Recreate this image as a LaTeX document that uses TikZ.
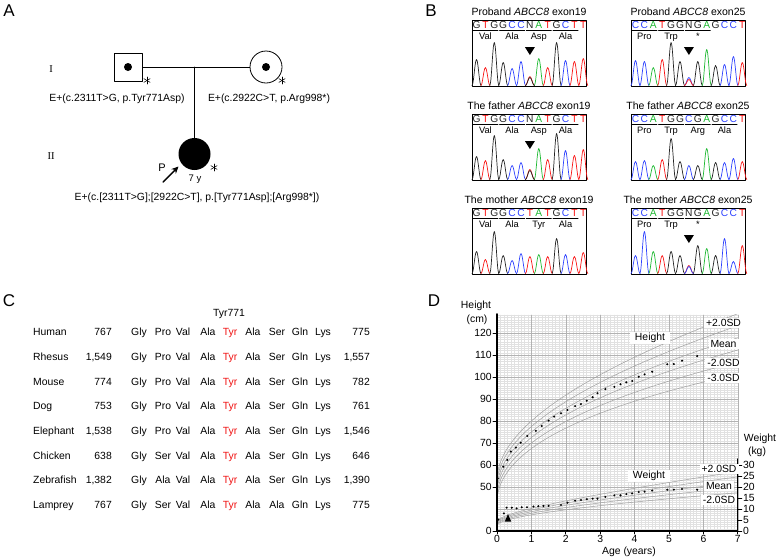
\documentclass[tikz,border=0pt]{standalone}
\usepackage{fontspec}
\setmainfont{Liberation Sans}
\newfontfamily\serifroman{Liberation Serif}
\usetikzlibrary{positioning,arrows.meta}
\definecolor{baseA}{RGB}{30,185,50}
\definecolor{baseC}{RGB}{45,65,255}
\definecolor{baseG}{RGB}{35,35,35}
\definecolor{baseN}{RGB}{35,35,35}
\definecolor{baseT}{RGB}{250,20,20}
\definecolor{tyrred}{RGB}{240,20,20}
\definecolor{gridminor}{RGB}{225,225,225}
\definecolor{gridmajor}{RGB}{178,178,178}
\definecolor{sdgray}{RGB}{160,160,160}
\tikzset{
  txt/.style={inner sep=0pt, font=\fontsize{10.4}{12}\selectfont},
  panel/.style={inner sep=0pt, font=\fontsize{17}{20}\selectfont},
  seqtxt/.style={inner sep=0pt, anchor=base, font=\fontsize{10.2}{12}\selectfont},
  aatxt/.style={inner sep=0pt, anchor=base, font=\fontsize{9.3}{11}\selectfont},
  sdlbl/.style={txt, fill=white, inner xsep=2pt, inner ysep=1.5pt},
  axisline/.style={line width=1.2pt},
  sdline/.style={sdgray, line width=0.5pt},
  pedline/.style={line width=0.8pt},
  starline/.style={line width=0.55pt},
}
% sequencing trace: name, x0, y0, title, bases, amino acids, peaks, extra peaks, arrowhead
\newcommand{\chromat}[9]{
  \node[txt, font=\fontsize{10.5}{12}\selectfont] (#1-title) at ({#2+57},{#3-8}) {#4};
  \draw[line width=0.7pt] (#2,#3) rectangle ++(114,66);
  \foreach \nt [count=\i] in {#5}
    \node[seqtxt, text=base\nt] (#1-b\i) at ({#2+4.5+8.9*(\i-1)},{#3+8.5}) {\nt};
  \foreach \k/\acid in {#6}{
    \draw[line width=0.6pt] ({#2+0.8+26.7*\k},{#3+10.6}) -- ({#2+26+26.7*\k},{#3+10.6});
    \node[aatxt] (#1-aa\k) at ({#2+4.5+8.9*(3*\k+1)},{#3+19.5}) {\acid};
  }
  \foreach \nt/\pk [count=\i] in {#7}
    \draw[base\nt, line width=0.7pt] plot[smooth, domain=-4.5:4.5, samples=11]
      ({#2+4.5+8.9*(\i-1)+(\x)}, {#3+65.5-\pk*(cos(20*(\x)))^2});
  \def\extrapk{#8}
  \ifx\extrapk\empty\else
    \foreach \pos/\nt/\pk in {#8}
      \draw[base\nt, line width=0.7pt] plot[smooth, domain=-4.5:4.5, samples=11]
        ({#2+4.5+8.9*(\pos-1)+(\x)}, {#3+65.5-\pk*(cos(20*(\x)))^2});
  \fi
  \ifnum#9=1 \fill ({#2+4.5+8.9*6-5},{#3+27}) -- ++(10,0) -- ++(-5,8) -- cycle; \fi
}

\begin{document}
\begin{tikzpicture}[x=1pt, y=-1pt, line join=round, line cap=round, >=Stealth]
\useasboundingbox (0,0) rectangle (778,558);
\node[panel] (lblA) at (9,11) {A};
\node[panel] (lblB) at (431,11) {B};
\node[panel] (lblC) at (9,301) {C};
\node[panel] (lblD) at (434,301) {D};

%% A: pedigree
\node[draw, pedline, minimum size=28pt, inner sep=0pt] (father) at (128,67) {};
\node[draw, circle, pedline, minimum size=32pt, inner sep=0pt] (mother) at (266,67) {};
\node[fill, circle, minimum size=32pt, inner sep=0pt] (proband) at (194.5,154) {};
\fill (father.center) circle (4pt);
\fill (mother.center) circle (4pt);
\draw[pedline] (father.east) -- (mother.west);
\draw[pedline] (proband.north) -- (proband.north |- father.east);
\node[font=\serifroman\fontsize{10.5}{12}\selectfont, inner sep=0pt] (gen1) at (51,69) {I};
\node[font=\serifroman\fontsize{10.5}{12}\selectfont, inner sep=0pt] (gen2) at (51,156) {II};
% carrier asterisks
\coordinate (fstar) at (147,80.5);
\coordinate (mstar) at (282,80.5);
\coordinate (pstar) at (214,167.5);
\foreach \st in {fstar,mstar,pstar}
  \foreach \ang in {90,30,150}
    \draw[starline] (\st) ++(\ang:3.6) -- ++(\ang+180:7.2);
\node[txt] (flabel) at (117,99) {E+(c.2311T>G, p.Tyr771Asp)};
\node[txt] (mlabel) at (269,99) {E+(c.2922C>T, p.Arg998*)};
\node[txt] (plabel) at (197,198) {E+(c.[2311T>G];[2922C>T], p.[Tyr771Asp];[Arg998*])};
\node[txt, font=\fontsize{11}{12}\selectfont] (pmark) at (162,168) {P};
\node[txt, font=\fontsize{9.5}{11}\selectfont] (page) at (195,179) {7 y};
\coordinate (arrtail) at (163,182);
\coordinate (arrtip) at (178.5,166.5);
\draw[line width=1.4pt, -{Stealth[length=7pt,width=6.5pt]}] (arrtail) -- (arrtip);

%% B: chromatograms
\chromat{pl}{472}{20}{Proband \textit{ABCC8} exon19}{G,T,G,G,C,C,N,A,T,G,C,T,T}
  {0/Val,1/Ala,2/Asp,3/Ala}{G/26,T/18,G/43,G/23,C/17,C/24,T/9,A/27,T/18,G/43,C/25,T/24,T/27}{7/G/8}{1}
\chromat{pr}{631}{20}{Proband \textit{ABCC8} exon25}{C,C,A,T,G,G,N,G,A,G,C,C,T}
  {0/Pro,1/Trp,2/*}{C/25,C/24,A/18,T/26,G/43,G/24,C/8,G/24,A/36,G/20,C/21,C/29,T/23}{7/T/6}{1}
\chromat{fl}{472}{114}{The father \textit{ABCC8} exon19}{G,T,G,G,C,C,N,A,T,G,C,T,T}
  {0/Val,1/Ala,2/Asp,3/Ala}{G/23,T/19,G/44,G/20,C/14,C/17,T/10,A/31,T/20,G/46,C/29,T/24,T/30}{7/G/9}{1}
\chromat{fr}{631}{114}{The father \textit{ABCC8} exon25}{C,C,A,T,G,G,C,G,A,G,C,C,T}
  {0/Pro,1/Trp,2/Arg,3/Ala}{C/18,C/19,A/14,T/20,G/41,G/18,C/14,G/14,A/31,G/17,C/17,C/21,T/18}{}{0}
\chromat{ml}{472}{208}{The mother \textit{ABCC8} exon19}{G,T,G,G,C,C,T,A,T,G,C,T,T}
  {0/Val,1/Ala,2/Tyr,3/Ala}{G/22,T/14,G/42,G/18,C/13,C/20,T/17,A/19,T/17,G/35,C/19,T/17,T/21}{}{0}
\chromat{mr}{631}{208}{The mother \textit{ABCC8} exon25}{C,C,A,T,G,G,N,G,A,G,C,C,T}
  {0/Pro,1/Trp,2/*}{C/18,C/42,A/22,T/18,G/22,G/18,T/8,G/28,A/25,G/18,C/35,C/12,T/28}{7/C/7}{1}

%% C: alignment
\node[txt, anchor=base] (tyrhead) at (229,316.5) {Tyr771};
\foreach \spec/\numA/\acids/\numB [count=\r] in {
  Human/767/{Gly,Pro,Val,Ala,Tyr,Ala,Ser,Gln,Lys}/775,
  Rhesus/{1,549}/{Gly,Pro,Val,Ala,Tyr,Ala,Ser,Gln,Lys}/{1,557},
  Mouse/774/{Gly,Pro,Val,Ala,Tyr,Ala,Ser,Gln,Lys}/782,
  Dog/753/{Gly,Pro,Val,Ala,Tyr,Ala,Ser,Gln,Lys}/761,
  Elephant/{1,538}/{Gly,Pro,Val,Ala,Tyr,Ala,Ser,Gln,Lys}/{1,546},
  Chicken/638/{Gly,Ser,Val,Ala,Tyr,Ala,Ser,Gln,Lys}/646,
  Zebrafish/{1,382}/{Gly,Ala,Val,Ala,Tyr,Ala,Ser,Gln,Lys}/{1,390},
  Lamprey/767/{Gly,Ser,Val,Ala,Tyr,Ala,Ala,Gln,Lys}/775}{
  \pgfmathsetmacro\yy{335.6+24.7*(\r-1)}
  \node[txt, anchor=base west] (sp-\r) at (33,\yy) {\spec};
  \node[txt, anchor=base east] (na-\r) at (112,\yy) {\numA};
  \node[txt, anchor=base east] (nb-\r) at (370,\yy) {\numB};
  \foreach \acid [count=\c] in \acids {
    \pgfmathsetmacro\cx{{139,163,183,208,230,253,277,300,323}[\c-1]}
    \ifnum\c=5 \def\acol{tyrred}\else\def\acol{black}\fi
    \node[txt, anchor=base, text=\acol] (aa-\r-\c) at (\cx,\yy) {\acid};
  }
}

%% D: growth chart
\begin{scope}[shift={(497,531)}, x=34.4pt, y=2.2pt]
  \foreach \i in {1,...,70} \draw[gridminor, line width=0.25pt] (\i/10,0) -- (\i/10,98.2);
  \foreach \j in {1,...,98} \draw[gridminor, line width=0.25pt] (0,\j) -- (7,\j);
  \draw[gridminor, line width=0.25pt] (0,98.2) -- (7,98.2);
  \foreach \i in {1,...,7} \draw[gridmajor, line width=0.4pt] (\i,0) -- (\i,98.2);
  \foreach \j in {10,20,...,90} \draw[gridmajor, line width=0.4pt] (0,\j) -- (7,\j);
  \begin{scope}
    \clip (0,0) rectangle (7,98.2);
    \foreach \k in {2,1,0,-1,-2,-3}
      \draw[sdline] plot[smooth, domain=0:2.6458, samples=40] ({\x*\x}, {19+26*\x+\k*(2+0.5*\x*\x)});
    \foreach \k in {2,1,0,-1,-2}
      \draw[sdline] plot[smooth, domain=0:2.6458, samples=40] ({\x*\x}, {3.3+4.5*\x+\x*\x+\k*(0.45+0.28*\x*\x)});
  \end{scope}
  \foreach \a/\v in {0.02/53.9,0.18/59.2,0.30/62.3,0.40/66.1,0.55/67.9,0.69/70.1,0.88/73.2,1.13/75.5,
      1.30/77.7,1.50/80.2,1.66/82.0,1.86/83.5,2.05/85.0,2.27/86.8,2.44/87.7,2.61/89.2,2.78/90.8,
      2.92/92.6,3.15/94.5,3.41/95.5,3.59/96.7,3.76/97.6,3.93/98.2,4.12/100.1,4.29/101.2,4.51/102.4,
      4.95/105.8,5.14/105.9,5.38/107.4,5.82/109.5}
    \fill (\a,\v-30) circle (1.15pt);
  \foreach \a/\v in {0.04/5.2,0.20/8.0,0.28/10.6,0.43/10.6,0.57/10.3,0.72/10.8,0.87/10.8,1.06/11.1,
      1.20/11.3,1.35/11.4,1.50/11.4,1.86/11.8,2.05/12.9,2.27/13.8,2.44/14.1,2.61/14.5,2.78/14.7,
      2.92/14.7,3.15/15.5,3.41/16.2,3.59/16.2,3.76/16.8,3.93/17.1,4.12/17.7,4.29/17.9,4.51/18.4,
      4.95/18.8,5.14/18.8,5.38/19.1,5.82/18.8}
    \fill (\a,\v) circle (1.15pt);
  \fill (0.32,5.9) ++(0pt,4pt) -- ++(-3.2pt,-7.5pt) -- ++(6.4pt,0pt) -- cycle;
  % axes and ticks
  \draw[axisline] (0,98.7) -- (0,0) -- (7,0) -- (7,32.8);
  \foreach \v in {50,60,...,120}
    \draw[line width=0.8pt] (0,\v-30) -- ++(-4pt,0pt) node[txt, anchor=east, xshift=-1pt] (ht-\v) {\v};
  \draw[line width=0.8pt] (0,0) -- ++(-4pt,0pt) node[txt, anchor=east, xshift=-1pt] (ht-0) {0};
  \foreach \v in {0,5,...,30}
    \draw[line width=0.8pt] (7,\v) -- ++(4pt,0pt) node[txt, anchor=west, xshift=1pt] (wt-\v) {\v};
  \foreach \v in {0,...,7}
    \draw[line width=0.8pt] (\v,0) -- ++(0pt,-3pt) node[txt, anchor=north, yshift=-1pt] (age-\v) {\v};
\end{scope}
\node[sdlbl, inner xsep=5pt] (hcurve) at (650,338) {Height};
\node[sdlbl] (hplus2) at (723.5,323) {+2.0SD};
\node[sdlbl] (hmean) at (723.5,344) {Mean};
\node[sdlbl] (hminus2) at (723.5,363) {-2.0SD};
\node[sdlbl] (hminus3) at (723.5,378) {-3.0SD};
\node[sdlbl, inner xsep=5pt] (wcurve) at (649,476) {Weight};
\node[sdlbl] (wplus2) at (719,469) {+2.0SD};
\node[sdlbl] (wmean) at (719,486) {Mean};
\node[sdlbl] (wminus2) at (719,500) {-2.0SD};
\node[txt] (htitle) at (476,306) {Height};
\node[txt] (hunit) at (477,320) {(cm)};
\node[txt] (wtitle) at (760,439) {Weight};
\node[txt] (wunit) at (757,452) {(kg)};
\node[txt] (agetitle) at (629,552) {Age (years)};
\end{tikzpicture}
\end{document}
